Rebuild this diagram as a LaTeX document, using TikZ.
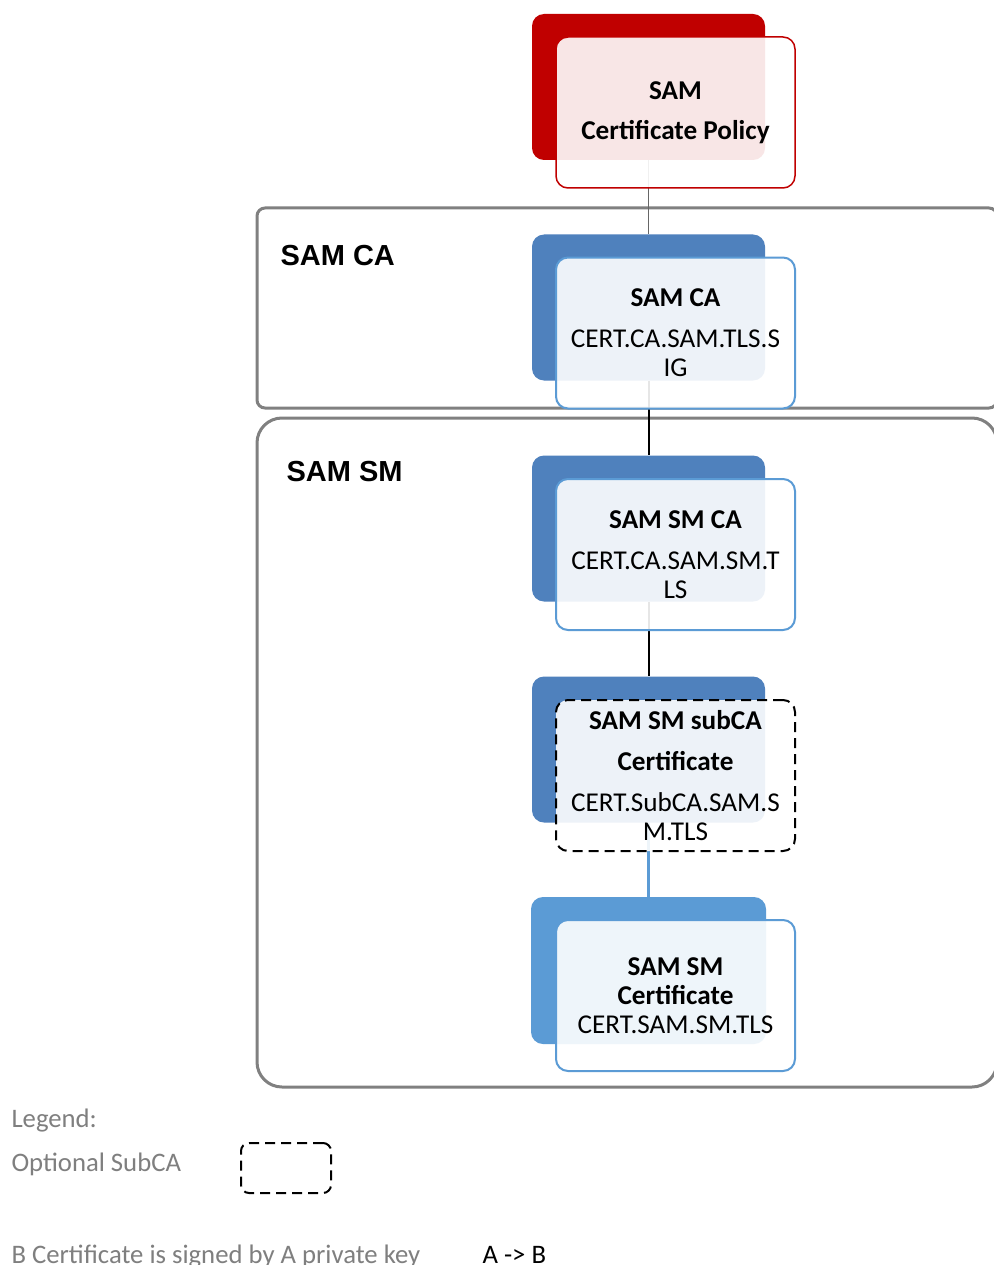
\documentclass[tikz,border=0pt]{standalone}
\usepackage{fontspec}
\setmainfont{Carlito}
\newfontfamily\arialfont{Liberation Sans}
\usepackage{xcolor}
\usetikzlibrary{positioning}
\definecolor{samred}{HTML}{C00000}
\definecolor{samblue}{HTML}{4F81BD}
\definecolor{samlight}{HTML}{5B9BD5}
\definecolor{boxgray}{HTML}{808080}
\definecolor{legendgray}{HTML}{7F7F7F}

\begin{document}
\begin{tikzpicture}[x=1pt,y=-1pt,
	cardback/.style={rounded corners=12pt, minimum width=233pt, minimum height=146pt, inner sep=0pt},
	cardfront/.style={rounded corners=12pt, minimum width=239pt, minimum height=151pt, inner sep=0pt,
		fill=white, fill opacity=0.9, text opacity=1, align=center,
		font=\fontsize{27.2}{29}\selectfont},
	groupbox/.style={draw=boxgray, line width=3pt},
	grouplabel/.style={anchor=west, font=\arialfont\bfseries\fontsize{29}{32}\selectfont},
	legendtext/.style={anchor=base west, text=legendgray, font=\fontsize{26.7}{29}\selectfont},
	optdash/.style={dash pattern=on 10pt off 6pt, line width=2pt}]
	\useasboundingbox[fill=white] (0,0) rectangle (993,1265);
	% group frames
	\draw[groupbox, rounded corners=8pt] (257,208) rectangle (997,408);
	\draw[groupbox, rounded corners=25pt] (257,418) rectangle (997,1087);
	\node[grouplabel] (lblca) at (277,256) {SAM CA};
	\node[grouplabel] (lblsm) at (283,472) {SAM SM};
	% back cards
	\node[cardback, fill=samred] (pol) at (648.5,87) {};
	\node[cardback, fill=samblue] (ca) at (648.5,307.5) {};
	\node[cardback, fill=samblue] (smca) at (648.5,528.5) {};
	\node[cardback, fill=samblue] (subca) at (648.5,749.5) {};
	\node[cardback, fill=samlight, minimum width=235pt, minimum height=147pt] (smcert) at (648.5,970.5) {};
	% signing chain
	\draw[black!60, line width=1.5pt] (pol.south) -- (ca.north);
	\draw[black, line width=2pt] (ca.south) -- (smca.north);
	\draw[black, line width=2pt] (smca.south) -- (subca.north);
	\draw[samlight, line width=2.5pt] (subca.south) -- (smcert.north);
	% front cards
	\node[cardfront, draw=samred, line width=1.5pt] (polf) at (675.5,112.5)
		{\textbf{SAM}\\[11pt]\textbf{Certificate Policy}};
	\node[cardfront, draw=samlight, line width=2pt] (caf) at (675.5,333)
		{\textbf{SAM CA}\\[12pt]CERT.CA.SAM.TLS.S\\IG};
	\node[cardfront, draw=samlight, line width=2pt] (smcaf) at (675.5,554.5)
		{\textbf{SAM SM CA}\\[12pt]CERT.CA.SAM.SM.T\\LS};
	\node[cardfront, draw=black, optdash] (subcaf) at (675.5,775.5)
		{\textbf{SAM SM subCA}\\[12pt]\textbf{Certificate}\\[12pt]CERT.SubCA.SAM.S\\M.TLS};
	\node[cardfront, draw=samlight, line width=2pt] (smcertf) at (675.5,995.5)
		{\textbf{SAM SM}\\\textbf{Certificate}\\CERT.SAM.SM.TLS};
	% legend
	\node[legendtext] (leg) at (8,1127) {Legend:};
	\node[legendtext] (legopt) at (8,1171) {Optional SubCA};
	\node[draw=black, optdash, rounded corners=8pt, minimum width=90pt, minimum height=50pt] (optbox) at (286,1168) {};
	\node[legendtext] (legsign) at (8,1263) {B Certificate is signed by A private key};
	\node[legendtext, text=black] (legarrow) at (479,1263) {A -> B};
\end{tikzpicture}
\end{document}
